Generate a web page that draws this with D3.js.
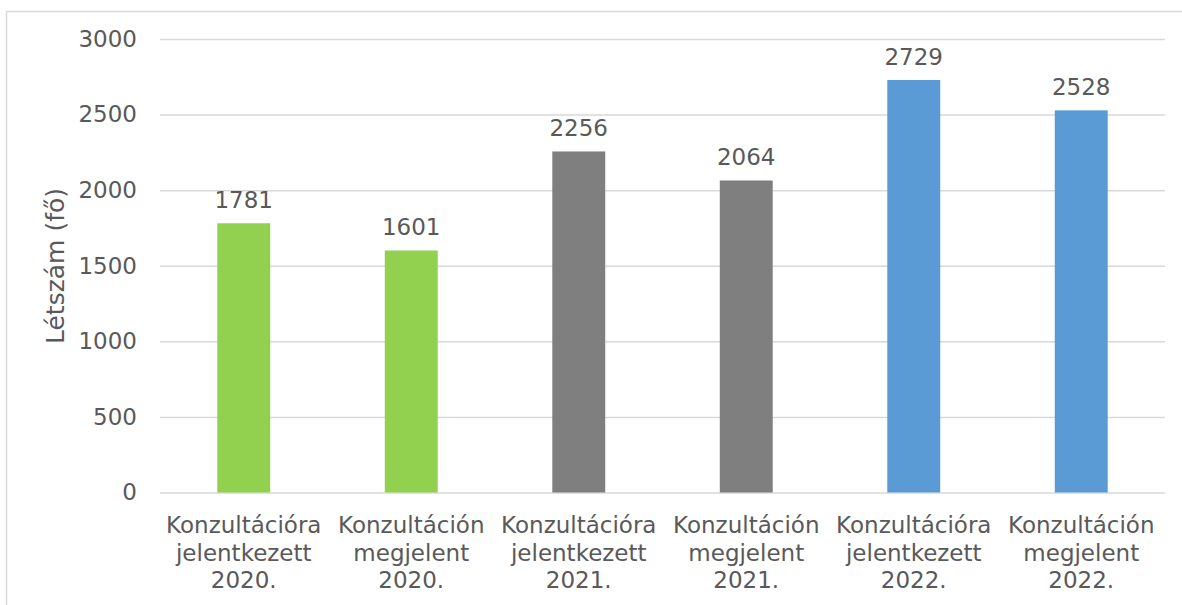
<!DOCTYPE html>
<html>
<head>
<meta charset="utf-8">
<script src="https://cdn.jsdelivr.net/npm/d3@7"></script>
<style>
    body { margin: 0; background: #ffffff; }
    text { font-family: "DejaVu Sans", Verdana, sans-serif; fill: #595959; }
</style>
</head>
<body>
<div id="chart"></div>
<script>
const categories = [
    ["Konzultációra", "jelentkezett", "2020."],
    ["Konzultáción", "megjelent", "2020."],
    ["Konzultációra", "jelentkezett", "2021."],
    ["Konzultáción", "megjelent", "2021."],
    ["Konzultációra", "jelentkezett", "2022."],
    ["Konzultáción", "megjelent", "2022."]
];
const values = [1781, 1601, 2256, 2064, 2729, 2528];
const barColors = ["#92d050", "#92d050", "#7f7f7f", "#7f7f7f", "#5b9bd5", "#5b9bd5"];
const yTicks = [0, 500, 1000, 1500, 2000, 2500, 3000];
const yTitle = "Létszám (fő)";

const width = 1182;
const height = 605;
const margin = { top: 39, right: 17, bottom: 113, left: 160 };

const svg = d3.select("#chart")
    .append("svg")
    .attr("width", width)
    .attr("height", height);

// chart frame (only top and left edges are visible in the crop)
svg.append("path")
    .attr("d", `M6.5,${height} V11.5 H${width}`)
    .attr("fill", "none")
    .attr("stroke", "#d9d9d9")
    .attr("stroke-width", 1.5);

const idx = d3.range(values.length);

const x = d3.scaleBand()
    .domain(idx)
    .range([margin.left, width - margin.right])
    .paddingInner(0.684)
    .paddingOuter(0.342);

const y = d3.scaleLinear()
    .domain([0, 3000])
    .range([height - margin.bottom + 0.5, margin.top]);

// gridlines + tick labels
const yAxis = svg.append("g")
    .attr("transform", `translate(${margin.left},0)`)
    .call(d3.axisLeft(y)
        .tickValues(yTicks)
        .tickFormat(d3.format("d"))
        .tickSize(-(width - margin.left - margin.right))
        .tickPadding(23));

yAxis.select(".domain").remove();
yAxis.selectAll(".tick line")
    .attr("stroke", "#d9d9d9")
    .attr("stroke-width", 1.5);
yAxis.selectAll(".tick text")
    .attr("font-size", 23)
    .attr("fill", "#595959")
    .attr("font-family", "DejaVu Sans, Verdana, sans-serif");

// bars
svg.append("g")
    .selectAll("rect")
    .data(idx)
    .join("rect")
    .attr("x", i => x(i))
    .attr("width", x.bandwidth())
    .attr("y", i => y(values[i]))
    .attr("height", i => y(0) - y(values[i]))
    .attr("fill", i => barColors[i]);

// value labels
svg.append("g")
    .selectAll("text")
    .data(idx)
    .join("text")
    .attr("x", i => x(i) + x.bandwidth() / 2)
    .attr("y", i => y(values[i]) - 15)
    .attr("text-anchor", "middle")
    .attr("font-size", 23)
    .text(i => values[i]);

// category labels
const cat = svg.append("g")
    .selectAll("text")
    .data(idx)
    .join("text")
    .attr("text-anchor", "middle")
    .attr("font-size", 23)
    .attr("y", 533);

cat.selectAll("tspan")
    .data(i => categories[i].map(t => ({ i, t })))
    .join("tspan")
    .attr("x", d => x(d.i) + x.bandwidth() / 2)
    .attr("dy", (d, k) => k === 0 ? 0 : 27.5)
    .text(d => d.t);

// y axis title
svg.append("text")
    .attr("transform", "rotate(-90)")
    .attr("x", -266)
    .attr("y", 64)
    .attr("text-anchor", "middle")
    .attr("font-size", 25)
    .text(yTitle);
</script>
</body>
</html>
